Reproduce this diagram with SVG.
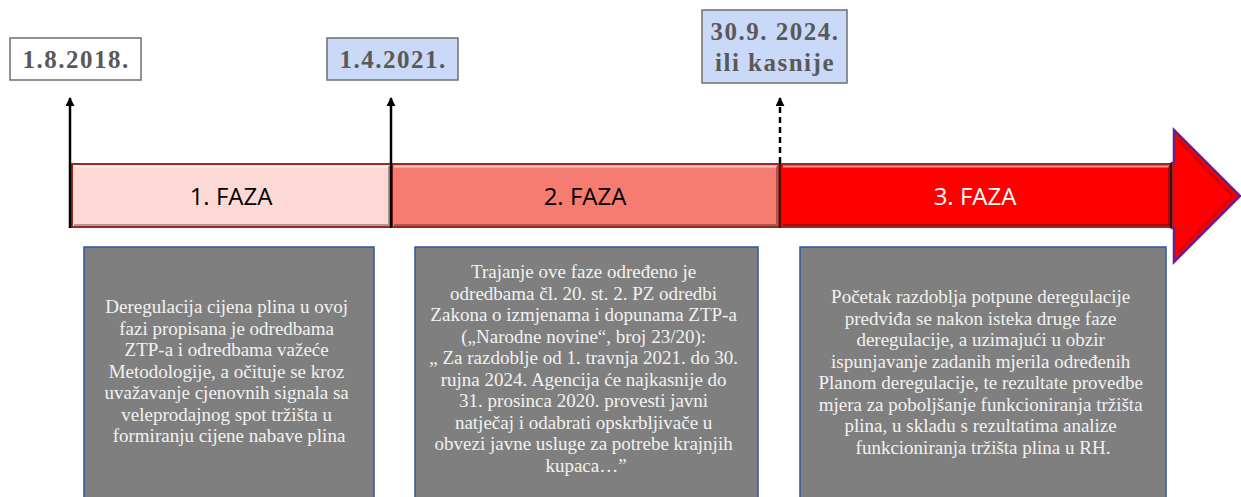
<svg xmlns="http://www.w3.org/2000/svg" width="1241" height="497" viewBox="0 0 1241 497">
  <style>
    .date { font-family: "Liberation Serif", serif; font-weight: bold; font-size: 25px; fill: #595959; text-anchor: middle; letter-spacing: 1.5px; }
    .datebox { stroke: #6e6e6e; stroke-width: 1.5; }
    .phase { font-family: "Open Sans", "Liberation Sans", sans-serif; font-size: 24px; text-anchor: middle; }
    .info { fill: #7f7f7f; stroke: #2f55a8; stroke-width: 1.5; }
    .infotext { font-family: "Liberation Serif", serif; font-size: 19px; fill: #f2f2f2; text-anchor: middle; }
    .conn { stroke: #000; stroke-width: 2.5; fill: none; }
    .hl { stroke: #ffffff; stroke-opacity: 0.55; stroke-width: 2; fill: none; }
    .sh { stroke: #000; stroke-opacity: 0.3; stroke-width: 2; fill: none; }
  </style>
  <defs>
    <marker id="ah" viewBox="0 0 10 10" refX="9" refY="5" markerWidth="3.6" markerHeight="3.6" orient="auto" markerUnits="strokeWidth">
      <path d="M0,0 L10,5 L0,10 z" fill="#000"/>
    </marker>
    <linearGradient id="headShade" x1="0" y1="0" x2="1" y2="0">
      <stop offset="0" stop-color="#ff0000"/>
      <stop offset="1" stop-color="#ff0000"/>
    </linearGradient>
  </defs>

  <!-- Timeline bar -->
  <g id="timeline">
    <polygon points="1172,163 1174,163 1174,130 1240,196 1174,262 1174,228 1172,228" fill="#ff0000" stroke="#6a1f8a" stroke-width="2.5" stroke-linejoin="miter"/>
    <polyline points="1178,140 1233,196 1178,252" fill="none" stroke="#a00000" stroke-opacity="0.45" stroke-width="3"/>
    <rect x="71" y="163" width="1102" height="65" fill="#9a2a22"/>
  </g>

  <g id="phase1">
    <rect x="73" y="165" width="317" height="61" fill="#fdd9d5"/>
    <path class="hl" d="M74,166.5 H389"/>
    <path class="sh" d="M389,166 V225 H74"/>
    <text class="phase" x="231" y="205" fill="#000">1. FAZA</text>
  </g>

  <g id="phase2">
    <rect x="393" y="165" width="385" height="61" fill="#f67b70"/>
    <path class="hl" d="M394,166.5 H777"/>
    <path class="sh" d="M777,166 V225 H394"/>
    <text class="phase" x="585" y="205" fill="#000">2. FAZA</text>
  </g>

  <g id="phase3">
    <rect x="782" y="165" width="388" height="61" fill="#ff0000"/>
    <path class="hl" d="M783,166.5 H1169"/>
    <path class="sh" d="M1169,166 V225 H783"/>
    <line x1="1171" y1="163" x2="1171" y2="228" stroke="#3a0a08" stroke-width="2"/>
    <text class="phase" x="975" y="205" fill="#ffffff">3. FAZA</text>
  </g>

  <!-- Connectors -->
  <g id="connectors">
    <line class="conn" x1="70" y1="228" x2="70" y2="98" marker-end="url(#ah)"/>
    <line class="conn" x1="391" y1="228" x2="391" y2="98" marker-end="url(#ah)"/>
    <line class="conn" x1="780" y1="163" x2="780" y2="98" stroke-dasharray="6,4" marker-end="url(#ah)"/>
    <line x1="780" y1="163" x2="780" y2="228" stroke="#5a0c08" stroke-width="2"/>
  </g>

  <!-- Date labels -->
  <g id="date1">
    <rect class="datebox" x="10" y="38" width="131" height="42" fill="#ffffff"/>
    <text class="date" x="76" y="68">1.8.2018.</text>
  </g>
  <g id="date2">
    <rect class="datebox" x="327" y="38" width="131" height="42" fill="#c9d9f7"/>
    <text class="date" x="393" y="68">1.4.2021.</text>
  </g>
  <g id="date3">
    <rect class="datebox" x="702" y="10" width="145" height="73" fill="#c9d9f7"/>
    <text class="date" x="775" y="40">30.9. 2024.</text>
    <text class="date" x="775" y="71">ili kasnije</text>
  </g>

  <!-- Info boxes -->
  <g id="info1">
    <rect class="info" x="84" y="247" width="290" height="260"/>
    <text class="infotext">
      <tspan x="229" y="313">Deregulacija cijena plina u ovoj</tspan>
      <tspan x="229" y="334.5">fazi propisana je odredbama</tspan>
      <tspan x="229" y="356">ZTP-a i odredbama važeće</tspan>
      <tspan x="229" y="377.5">Metodologije, a očituje se kroz</tspan>
      <tspan x="229" y="399">uvažavanje cjenovnih signala sa</tspan>
      <tspan x="229" y="420.5">veleprodajnog spot tržišta u</tspan>
      <tspan x="229" y="442">formiranju cijene nabave plina</tspan>
    </text>
  </g>

  <g id="info2">
    <rect class="info" x="415" y="247" width="343" height="260"/>
    <text class="infotext">
      <tspan x="586" y="278">Trajanje ove faze određeno je</tspan>
      <tspan x="586" y="299.5">odredbama čl. 20. st. 2. PZ odredbi</tspan>
      <tspan x="586" y="321">Zakona o izmjenama i dopunama ZTP-a</tspan>
      <tspan x="586" y="342.5">(„Narodne novine“, broj 23/20):</tspan>
      <tspan x="586" y="364">„ Za razdoblje od 1. travnja 2021. do 30.</tspan>
      <tspan x="586" y="385.5">rujna 2024. Agencija će najkasnije do</tspan>
      <tspan x="586" y="407">31. prosinca 2020. provesti javni</tspan>
      <tspan x="586" y="428.5">natječaj i odabrati opskrbljivače u</tspan>
      <tspan x="586" y="450">obvezi javne usluge za potrebe krajnjih</tspan>
      <tspan x="586" y="471.5">kupaca…”</tspan>
    </text>
  </g>

  <g id="info3">
    <rect class="info" x="800" y="247" width="366" height="260"/>
    <text class="infotext">
      <tspan x="983" y="303">Početak razdoblja potpune deregulacije</tspan>
      <tspan x="983" y="324.5">predviđa se nakon isteka druge faze</tspan>
      <tspan x="983" y="346">deregulacije, a uzimajući u obzir</tspan>
      <tspan x="983" y="367.5">ispunjavanje zadanih mjerila određenih</tspan>
      <tspan x="983" y="389">Planom deregulacije, te rezultate provedbe</tspan>
      <tspan x="983" y="410.5">mjera za poboljšanje funkcioniranja tržišta</tspan>
      <tspan x="983" y="432">plina, u skladu s rezultatima analize</tspan>
      <tspan x="983" y="453.5">funkcioniranja tržišta plina u RH.</tspan>
    </text>
  </g>
</svg>
